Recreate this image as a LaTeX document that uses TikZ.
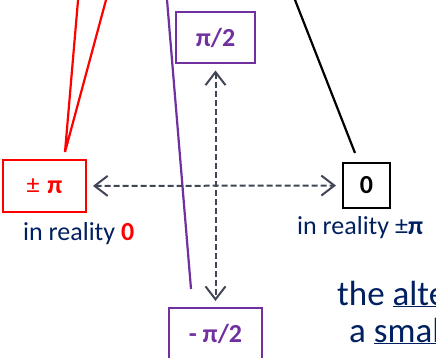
\documentclass[tikz,border=0pt]{standalone}
\usepackage{fontspec}
\setmainfont{Carlito}
\usetikzlibrary{arrows.meta}
\definecolor{slidered}{RGB}{255,0,0}
\definecolor{slidepurple}{RGB}{112,48,160}
\definecolor{slidenavy}{RGB}{0,32,96}
\definecolor{slidegrey}{RGB}{64,70,86}
\begin{document}
\begin{tikzpicture}[
  x=1pt, y=-1pt,
  font=\fontsize{26}{30}\selectfont,
  box/.style={draw, line width=2pt, inner sep=0pt, outer sep=1pt},
  axis/.style={draw=slidegrey, line width=2pt, dash pattern=on 6pt off 3pt,
               {Straight Barb[length=13pt,width=20pt]}-{Straight Barb[length=13pt,width=20pt]},
               shorten <=6pt, shorten >=6pt},
  lead/.style={line width=2.2pt},
  note/.style={text=slidenavy, anchor=base west, inner sep=0pt,
               font=\fontsize{26}{30}\selectfont}
]
\useasboundingbox (0,0) rectangle (436,358);
\clip (0,0) rectangle (436,358);

\node[box, draw=slidered, text=slidered, minimum width=83pt, minimum height=51pt] (pluspi) at (44.5,186) {±\hspace{0.3em}\textbf{π}};
\node[box, draw=black, minimum width=47pt, minimum height=44pt] (zero) at (366.5,185.5) {\textbf{0}};
\node[box, draw=slidepurple, text=slidepurple, minimum width=79pt, minimum height=51pt] (halfpi) at (215.5,38) {\textbf{π/2}};
\node[box, draw=slidepurple, text=slidepurple, minimum width=93pt, minimum height=51pt, anchor=north] (minushalfpi) at (215.5,307) {\textbf{- π/2}};

\node[note] (realityzero) at (23,240) {in reality \textcolor{slidered}{\textbf{0}}};
\node[note] (realitypi) at (297,234) {in reality ±\textbf{π}};
\node[note, font=\fontsize{35}{40}\selectfont] (alttext) at (337,305) {the \underline{alte}};
\node[note, font=\fontsize{35}{40}\selectfont] (smalltext) at (349,342) {a \underline{smal}};

% leads coming in from above
\coordinate (redleft) at (78.9,-10);
\coordinate (redright) at (108.7,-10);
\coordinate (redtip) at (65,152);
\coordinate (purpletop) at (166.2,-10);
\coordinate (purpleend) at (191,289);
\coordinate (blacktop) at (291.1,-10);
\coordinate (blackend) at (355,153);
\draw[lead, slidered] (redleft) -- (redtip) -- (redright);
\draw[lead, slidepurple] (purpletop) -- (purpleend);
\draw[lead, black] (blacktop) -- (blackend);

% phase axes
\draw[axis] (pluspi) -- (zero);
\draw[axis] (halfpi) -- (minushalfpi);
\end{tikzpicture}
\end{document}
